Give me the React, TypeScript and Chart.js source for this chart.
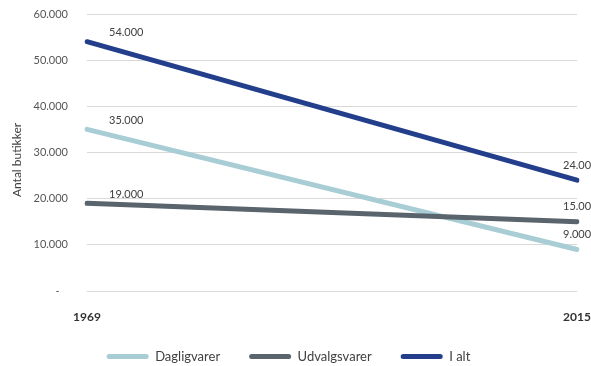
import React, { useEffect, useRef } from 'react';
import { Chart, registerables } from 'chart.js';

Chart.register(...registerables);

const categories = ['1969', '2015'];
const dagligvarer = [35000, 9000];
const udvalgsvarer = [19000, 15000];
const iAlt = [54000, 24000];
const seriesNames = ['Dagligvarer', 'Udvalgsvarer', 'I alt'];
const seriesColors = ['#a8cdd5', '#5a646d', '#233e8b'];
const yMin = 0;
const yMax = 60000;
const yStep = 10000;
const yTitle = 'Antal butikker';

const FONT = 'Lato, "Open Sans", sans-serif';

const fmt = (v: number) =>
  v === 0 ? '-   ' : String(v).replace(/\B(?=(\d{3})+(?!\d))/g, '.');

const dataLabelPlugin = {
  id: 'dataLabels',
  afterDatasetsDraw(chart: any) {
    const ctx = chart.ctx;
    ctx.save();
    ctx.font = `11px ${FONT}`;
    ctx.fillStyle = '#404040';
    ctx.textBaseline = 'middle';
    ctx.textAlign = 'left';
    chart.data.datasets.forEach((ds: any, i: number) => {
      const meta = chart.getDatasetMeta(i);
      meta.data.forEach((pt: any, j: number) => {
        const last = j === meta.data.length - 1;
        const x = last ? pt.x - 14 : pt.x + 22;
        const y = last ? pt.y - 15 : pt.y - 9;
        ctx.fillText(fmt(ds.data[j]), x, y);
      });
    });
    ctx.restore();
  },
};

const yTitlePlugin = {
  id: 'yTitle',
  afterDraw(chart: any) {
    const ctx = chart.ctx;
    ctx.save();
    ctx.font = `12px ${FONT}`;
    ctx.fillStyle = '#404040';
    ctx.textAlign = 'center';
    ctx.textBaseline = 'middle';
    ctx.translate(17, 160);
    ctx.rotate(-Math.PI / 2);
    ctx.fillText(yTitle, 0, 0);
    ctx.restore();
  },
};

export default function App() {
  const ref = useRef<HTMLCanvasElement | null>(null);

  useEffect(() => {
    document.body.style.margin = '0';
    if (!ref.current) return;
    const series = [dagligvarer, udvalgsvarer, iAlt];
    const chart = new Chart(ref.current, {
      type: 'line',
      data: {
        labels: categories,
        datasets: series.map((d, i) => ({
          label: seriesNames[i],
          data: d,
          borderColor: seriesColors[i],
          backgroundColor: seriesColors[i],
          borderWidth: 5,
          borderCapStyle: 'round',
          pointRadius: 0,
          pointHoverRadius: 0,
          tension: 0,
          fill: false,
          order: 2 - i,
        })),
      },
      options: {
        animation: false,
        responsive: true,
        maintainAspectRatio: false,
        layout: { padding: { left: 0, right: 14, top: 14, bottom: -7 } },
        scales: {
          x: {
            type: 'category',
            offset: false,
            grid: { display: false, drawTicks: false },
            border: { display: false },
            ticks: {
              padding: 19,
              color: '#333333',
              font: { family: FONT, size: 12, weight: 'bold' },
              maxRotation: 0,
            },
            afterFit: (s: any) => {
              s.height = 30;
              s.paddingLeft = 0;
              s.paddingRight = 0;
            },
          },
          y: {
            min: yMin,
            max: yMax,
            ticks: {
              stepSize: yStep,
              padding: 19,
              color: '#555555',
              font: { family: FONT, size: 11 },
              callback: (v: any) => fmt(Number(v)),
            },
            grid: { color: '#d9d9d9', lineWidth: 1, drawTicks: false },
            border: { display: false },
            afterFit: (s: any) => {
              s.width = 87;
              s.paddingTop = 0;
              s.paddingBottom = 0;
            },
          },
        },
        plugins: {
          tooltip: { enabled: false },
          legend: {
            position: 'bottom',
            labels: {
              boxWidth: 42,
              boxHeight: 5,
              padding: 29,
              useBorderRadius: true,
              borderRadius: 2.5,
              color: '#404040',
              font: { family: FONT, size: 13 },
              generateLabels: (c: any) =>
                c.data.datasets.map((ds: any, i: number) => ({
                  text: ds.label,
                  fillStyle: ds.borderColor,
                  strokeStyle: 'rgba(0,0,0,0)',
                  lineWidth: 0,
                  hidden: false,
                  datasetIndex: i,
                  borderRadius: 2.5,
                  fontColor: '#404040',
                })),
            },
          },
        },
      },
      plugins: [dataLabelPlugin, yTitlePlugin],
    } as any);
    return () => chart.destroy();
  }, []);

  return (
    <div style={{ width: 591, height: 366, position: 'relative' }}>
      <canvas ref={ref} />
    </div>
  );
}
